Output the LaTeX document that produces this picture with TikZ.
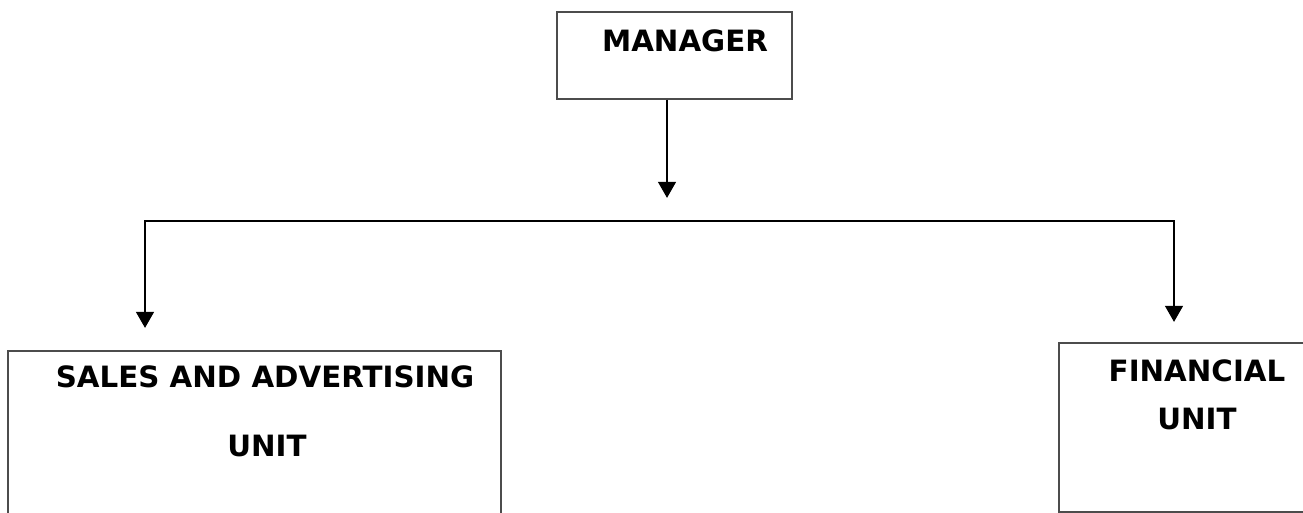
\documentclass[tikz,border=0pt]{standalone}
\usepackage{fontspec}
\setmainfont{DejaVu Sans}
\usetikzlibrary{arrows.meta}
\tikzset{
  unitbox/.style={draw=black!70, line width=1.1pt, inner sep=0pt, fill=none},
  lbl/.style={inner sep=0pt, font=\fontsize{22}{26}\selectfont\bfseries, text=black},
  conn/.style={line width=2.2pt, draw=black},
  arr/.style={conn, -{Triangle[width=13pt,length=12pt]}}
}
\begin{document}
\begin{tikzpicture}[x=0.75pt,y=-0.75pt]
\useasboundingbox (0,0) rectangle (1303,513);
\clip (0,0) rectangle (1303,513);
\fill[white] (0,0) rectangle (1303,513);
% boxes
\node[unitbox, minimum width=235*0.75pt, minimum height=87*0.75pt] (mgr) at (674.5,55.5) {};
\node[unitbox, minimum width=493*0.75pt, minimum height=175*0.75pt] (sales) at (254.5,438.5) {};
\node[unitbox, minimum width=255*0.75pt, minimum height=169*0.75pt] (fin) at (1186.5,427.5) {};
% texts
\node[lbl] (tmgr) at (685,41) {MANAGER};
\node[lbl] (tsales1) at (265,377) {SALES AND ADVERTISING};
\node[lbl] (tsales2) at (267,446) {UNIT};
\node[lbl] (tfin1) at (1197,371) {FINANCIAL};
\node[lbl] (tfin2) at (1197,419) {UNIT};
% connector points
\coordinate (stem) at (667,198);
\coordinate (hl) at (145,221);
\coordinate (hr) at (1174,221);
\coordinate (tl) at (145,328);
\coordinate (tr) at (1174,322);
% connectors
\draw[arr] (mgr.south -| stem) -- (stem);
\draw[conn, line cap=rect] (hl) -- (hr);
\draw[arr] (hl) -- (tl);
\draw[arr] (hr) -- (tr);
\end{tikzpicture}
\end{document}
